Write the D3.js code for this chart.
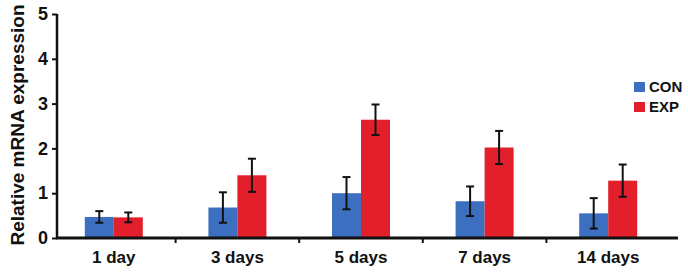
<!DOCTYPE html>
<html>
<head>
<meta charset="utf-8">
<script src="https://cdn.jsdelivr.net/npm/d3@7"></script>
<style>
  body { margin: 0; background: #fff; }
  text { font-family: "Liberation Sans", Arial, sans-serif; font-weight: bold; fill: #111; }
</style>
</head>
<body>
<div id="chart"></div>
<script>
const days = ["1 day", "3 days", "5 days", "7 days", "14 days"];
const series = ["CON", "EXP"];
const conMean = [0.47, 0.68, 1.00, 0.82, 0.55];
const conErr  = [0.13, 0.34, 0.36, 0.33, 0.34];
const expMean = [0.46, 1.40, 2.64, 2.02, 1.28];
const expErr  = [0.11, 0.37, 0.34, 0.37, 0.36];
const yTicks = [0, 1, 2, 3, 4, 5];

const colors = { CON: "#3d6fc0", EXP: "#e21f2b" };

let width = 688, height = 274;

let svg = d3.select("#chart").append("svg")
  .attr("width", width)
  .attr("height", height);

let y = d3.scaleLinear().domain([0, 5]).range([238, 14]);
let x0 = d3.scaleBand().domain(days).range([52, 670]);
let bw = x0.bandwidth();
let x1 = d3.scaleBand().domain(series).range([bw / 2 - 29, bw / 2 + 29]);

let data = [];
days.forEach((d, i) => {
  data.push({ day: d, s: "CON", v: conMean[i], e: conErr[i] });
  data.push({ day: d, s: "EXP", v: expMean[i], e: expErr[i] });
});

// bars
svg.selectAll("rect.bar")
  .data(data)
  .enter()
  .append("rect")
  .attr("class", "bar")
  .attr("x", d => x0(d.day) + x1(d.s))
  .attr("y", d => y(d.v))
  .attr("width", x1.bandwidth())
  .attr("height", d => y(0) - y(d.v))
  .attr("fill", d => colors[d.s]);

// error bars
let eb = svg.selectAll("g.err")
  .data(data)
  .enter()
  .append("g")
  .attr("class", "err")
  .attr("stroke", "#111")
  .attr("stroke-width", 2);

let cx = d => x0(d.day) + x1(d.s) + x1.bandwidth() / 2;
eb.append("line")
  .attr("x1", cx).attr("x2", cx)
  .attr("y1", d => y(d.v + d.e)).attr("y2", d => y(d.v - d.e));
eb.append("line")
  .attr("x1", d => cx(d) - 4).attr("x2", d => cx(d) + 4)
  .attr("y1", d => y(d.v + d.e)).attr("y2", d => y(d.v + d.e));
eb.append("line")
  .attr("x1", d => cx(d) - 4).attr("x2", d => cx(d) + 4)
  .attr("y1", d => y(d.v - d.e)).attr("y2", d => y(d.v - d.e));

// y axis
let yAxis = svg.append("g")
  .attr("transform", "translate(57,0)")
  .call(d3.axisLeft(y).tickValues(yTicks).tickFormat(d3.format("d")).tickSize(5).tickPadding(4));
yAxis.select(".domain").attr("stroke", "#111").attr("stroke-width", 2.5)
  .attr("d", "M0," + y(5) + "V" + y(0));
yAxis.selectAll(".tick line").attr("stroke", "#111").attr("stroke-width", 2);
yAxis.selectAll(".tick text").style("font-size", "18px").attr("fill", "#111");

// x axis
let xAxis = svg.append("g")
  .attr("transform", "translate(0,238)");
xAxis.append("line")
  .attr("x1", 56).attr("x2", 678)
  .attr("stroke", "#111").attr("stroke-width", 3);
xAxis.selectAll("line.tk")
  .data(days.slice(1))
  .enter()
  .append("line")
  .attr("class", "tk")
  .attr("x1", d => x0(d)).attr("x2", d => x0(d))
  .attr("y1", 0).attr("y2", 5)
  .attr("stroke", "#111").attr("stroke-width", 2);
xAxis.selectAll("text")
  .data(days)
  .enter()
  .append("text")
  .attr("x", d => x0(d) + bw / 2)
  .attr("y", 25)
  .attr("text-anchor", "middle")
  .style("font-size", "17px")
  .text(d => d);

// y label
svg.append("text")
  .attr("transform", "translate(24,125) rotate(-90)")
  .attr("text-anchor", "middle")
  .style("font-size", "19px")
  .text("Relative mRNA expression");

// legend
let legend = svg.selectAll("g.legend")
  .data(series)
  .enter()
  .append("g")
  .attr("class", "legend")
  .attr("transform", (d, i) => "translate(634," + (82 + i * 20) + ")");
legend.append("rect")
  .attr("width", 11).attr("height", 10)
  .attr("fill", d => colors[d]);
legend.append("text")
  .attr("x", 15).attr("y", 10)
  .style("font-size", "15px")
  .text(d => d);
</script>
</body>
</html>
